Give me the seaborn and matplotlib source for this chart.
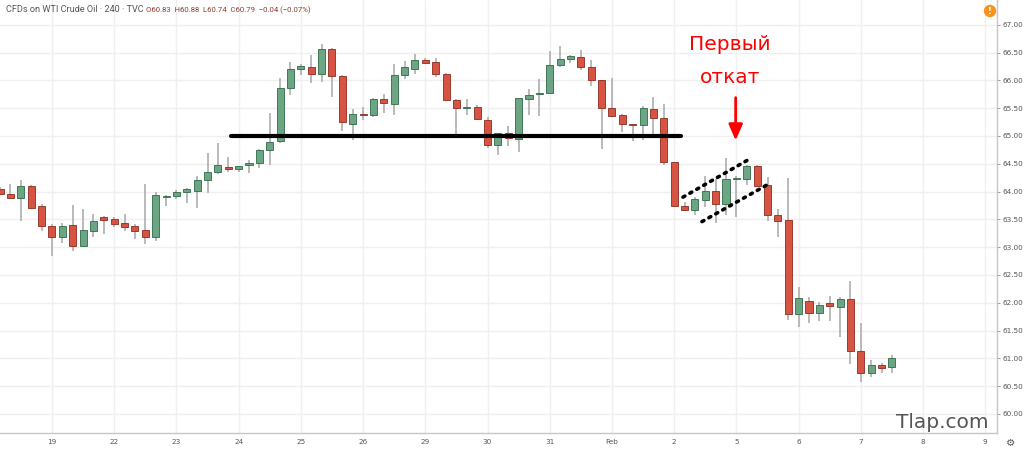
import numpy as np
import pandas as pd
import matplotlib
matplotlib.use("Agg")
import matplotlib.pyplot as plt
from matplotlib.patches import Circle
import seaborn as sns

# ---------------- data (4h candles, WTI Crude Oil CFD) ----------------
opens = [64.05, 63.95, 63.88, 64.10, 63.74, 63.39, 63.18, 63.40, 63.02, 63.30,
         63.54, 63.51, 63.43, 63.38, 63.31, 63.18, 63.90, 63.92, 64.00, 64.01,
         64.20, 64.35, 64.44, 64.40, 64.48, 64.51, 64.74, 64.91, 65.87, 66.21,
         66.24, 66.12, 66.57, 66.08, 65.22, 65.40, 65.37, 65.66, 65.57, 66.10,
         66.21, 66.37, 66.33, 66.12, 65.64, 65.51, 65.53, 65.28, 64.84, 65.05,
         64.94, 65.66, 65.75, 65.77, 66.28, 66.38, 66.42, 66.24, 66.00, 65.50,
         65.38, 65.21, 65.19, 65.49, 65.33, 64.53, 63.74, 63.66, 63.84, 64.01,
         63.77, 64.23, 64.23, 64.46, 64.11, 63.58, 63.49, 61.79, 62.04, 61.81,
         62.00, 61.93, 62.07, 61.14, 60.73, 60.88, 60.84]
highs = [64.08, 64.14, 64.20, 64.12, 63.77, 63.42, 63.44, 63.76, 63.68, 63.60,
         63.56, 63.55, 63.60, 63.42, 64.13, 64.00, 63.94, 64.03, 64.07, 64.28,
         64.69, 64.87, 64.62, 64.46, 64.57, 64.76, 65.42, 66.05, 66.33, 66.30,
         66.45, 66.65, 66.58, 66.09, 65.48, 65.53, 65.68, 65.75, 66.30, 66.34,
         66.48, 66.41, 66.40, 66.14, 65.66, 65.66, 65.56, 65.34, 65.05, 65.18,
         65.69, 65.84, 66.03, 66.53, 66.61, 66.45, 66.55, 66.36, 66.01, 66.05,
         65.40, 65.22, 65.54, 65.71, 65.57, 64.53, 63.81, 63.91, 64.28, 64.23,
         64.60, 64.28, 64.48, 64.48, 64.26, 63.68, 64.24, 62.28, 62.10, 62.02,
         62.12, 62.11, 62.39, 61.63, 60.97, 60.92, 61.06]
lows = [63.94, 63.86, 63.47, 63.68, 63.30, 62.84, 63.08, 62.94, 63.01, 63.18,
        63.23, 63.36, 63.30, 63.14, 63.05, 63.11, 63.74, 63.87, 63.79, 63.70,
        63.98, 64.31, 64.36, 64.36, 64.34, 64.42, 64.48, 64.88, 65.73, 66.09,
        65.96, 65.97, 65.71, 65.09, 64.92, 65.29, 65.35, 65.42, 65.38, 66.03,
        66.12, 66.29, 66.06, 65.63, 64.97, 65.37, 65.29, 64.78, 64.66, 64.82,
        64.72, 65.38, 65.36, 65.76, 66.24, 66.31, 66.19, 65.90, 64.76, 65.35,
        65.07, 64.91, 64.93, 65.03, 64.48, 63.73, 63.66, 63.58, 63.72, 63.43,
        63.58, 63.54, 64.12, 64.09, 63.48, 63.18, 61.69, 61.56, 61.63, 61.67,
        61.67, 61.38, 60.90, 60.58, 60.66, 60.73, 60.74]
closes = [63.96, 63.88, 64.10, 63.70, 63.39, 63.18, 63.39, 63.03, 63.31, 63.48,
          63.49, 63.42, 63.37, 63.30, 63.19, 63.94, 63.92, 64.00, 64.04, 64.21,
          64.35, 64.47, 64.40, 64.46, 64.51, 64.74, 64.90, 65.87, 66.21, 66.26,
          66.12, 66.57, 66.08, 65.25, 65.40, 65.37, 65.67, 65.59, 66.09, 66.24,
          66.37, 66.32, 66.12, 65.65, 65.50, 65.53, 65.30, 64.84, 65.05, 64.96,
          65.68, 65.74, 65.78, 66.28, 66.38, 66.43, 66.24, 66.00, 65.51, 65.36,
          65.22, 65.19, 65.50, 65.33, 64.53, 63.74, 63.66, 63.87, 64.01, 63.78,
          64.23, 64.24, 64.46, 64.10, 63.58, 63.48, 61.80, 62.08, 61.81, 61.96,
          61.94, 62.07, 61.14, 60.73, 60.88, 60.83, 61.01]

day_labels = ["19", "22", "23", "24", "25", "26", "29", "30", "31", "Feb",
              "2", "5", "6", "7", "8", "9"]
price_ticks = [60.0, 60.5, 61.0, 61.5, 62.0, 62.5, 63.0, 63.5, 64.0, 64.5,
               65.0, 65.5, 66.0, 66.5, 67.0]
neckline_level = 65.00
bars_per_day = 6
first_bar = -5          # first (partly hidden) bar sits 5 bars before day "19"

# ---------------- frame ----------------
n = len(opens)
df = pd.DataFrame({"bar": np.arange(first_bar, first_bar + n),
                   "open": opens, "high": highs, "low": lows, "close": closes})
df["up"] = df["close"] >= df["open"]
df["body_lo"] = df[["open", "close"]].min(axis=1)
df["body_h"] = (df["close"] - df["open"]).abs().clip(lower=0.015)

sns.set_theme(style="white")
plt.rcParams["font.family"] = ["DejaVu Sans"]

W, H = 1024, 451
fig = plt.figure(figsize=(W / 100, H / 100), dpi=100)
ax = fig.add_axes([0, 18 / H, 997 / W, 433 / H])

up_fill, dn_fill = "#6ba583", "#d75442"
up_edge, dn_edge = "#2e6a47", "#8c2b1f"
wick_c = "#b4b4b4"
grid_c = "#efefef"

# grid
day_pos = [i * bars_per_day for i in range(len(day_labels))]
for p in day_pos:
    ax.axvline(p, color=grid_c, lw=1, zorder=0)
for t in price_ticks:
    ax.axhline(t, color=grid_c, lw=1, zorder=0)

# wicks
ax.vlines(df["bar"], df["low"], df["high"], color=wick_c, lw=1.3, zorder=1)
# bodies
for up, fc, ec in [(True, up_fill, up_edge), (False, dn_fill, dn_edge)]:
    d = df[df["up"] == up]
    ax.bar(d["bar"], d["body_h"], bottom=d["body_lo"], width=0.68,
           color=fc, edgecolor=ec, linewidth=0.6, zorder=2)

# neckline (seaborn line)
neck = pd.DataFrame({"bar": [17.26, 60.65], "price": [neckline_level] * 2})
sns.lineplot(data=neck, x="bar", y="price", color="black", lw=3, ax=ax,
             zorder=4, legend=False)

# dotted channel
ax.plot([60.85, 67.12], [63.90, 64.57], color="black", lw=2.6,
        linestyle=(0, (0.6, 1.6)), dash_capstyle="round", zorder=5)
ax.plot([62.68, 69.04], [63.46, 64.13], color="black", lw=2.6,
        linestyle=(0, (0.6, 1.6)), dash_capstyle="round", zorder=5)

# arrow + caption
ax.annotate("", xy=(65.93, 64.87), xytext=(65.93, 65.74),
            arrowprops=dict(arrowstyle="-|>,head_width=0.35,head_length=0.8",
                            color="#ff0000", lw=2), zorder=6)
ax.text(65.4, 66.64, "Первый", color="#ff0000", fontsize=14.5,
        ha="center", va="center", zorder=6)
ax.text(65.4, 66.06, "откат", color="#ff0000", fontsize=14.5,
        ha="center", va="center", zorder=6)

# axes setup
ax.set_xlim(-5.01, 91.13)
ax.set_ylim(59.658, 67.446)
ax.yaxis.tick_right()
ax.set_yticks(price_ticks)
ax.set_yticklabels([f"{t:.2f}" for t in price_ticks])
ax.set_xticks(day_pos)
ax.set_xticklabels(day_labels)
ax.tick_params(axis="both", labelsize=5.2, colors="#8a8a8a", labelcolor="#555555",
               length=2, width=0.6, pad=2)
ax.tick_params(axis="x", pad=2.5)
ax.set_xlabel("")
ax.set_ylabel("")
for s in ["top", "left"]:
    ax.spines[s].set_visible(False)
for s in ["right", "bottom"]:
    ax.spines[s].set_color("#c6c6c6")
    ax.spines[s].set_linewidth(1)

# header
ax.text(6 / 997, 1 - 10 / 433, "CFDs on WTI Crude Oil · 240 · TVC",
        transform=ax.transAxes, fontsize=6.6, color="#555555",
        family=["Roboto", "DejaVu Sans"], va="center", ha="left")
ax.text(146 / 997, 1 - 10 / 433, "O60.83  H60.88  L60.74  C60.79  −0.04 (−0.07%)",
        transform=ax.transAxes, fontsize=5.6, color="#8e3b30",
        family=["Roboto", "DejaVu Sans"], va="center", ha="left")

# watermark
ax.text(989 / 997, 1 - 429 / 433 + 0.002, "Tlap.com", transform=ax.transAxes,
        fontsize=14.5, color="#555555", ha="right", va="baseline", zorder=7)

# orange notice icon and gear
fig.patches.append(Circle((990 / 100, (H - 11) / 100), 0.055,
                          transform=fig.dpi_scale_trans,
                          color="#f7931e", zorder=10))
fig.text(990 / W, 1 - 11 / H, "!", color="white", fontsize=6, fontweight="bold",
         ha="center", va="center", zorder=11)
fig.text(1011 / W, 1 - 443 / H, "⚙", color="#555555", fontsize=7.5,
         ha="center", va="center")

fig.savefig("out.png", dpi=100)
